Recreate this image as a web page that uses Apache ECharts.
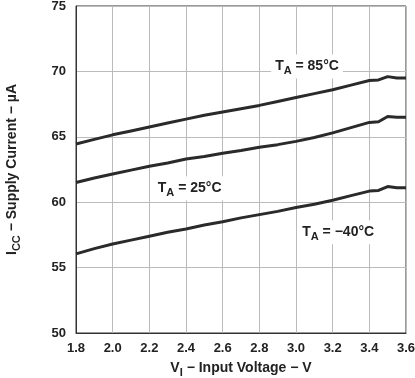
<!DOCTYPE html>
<html>
<head>
<meta charset="utf-8">
<script src="https://cdn.jsdelivr.net/npm/echarts@6/dist/echarts.min.js"></script>
<style>
  html, body { margin: 0; padding: 0; background: #fff; }
  #chart { width: 415px; height: 378px; }
</style>
</head>
<body>
<div id="chart"></div>
<script>
// input voltage (V)
var volts = [1.8, 1.9, 2.0, 2.1, 2.2, 2.3, 2.4, 2.5, 2.6, 2.7, 2.8, 2.9, 3.0, 3.1, 3.2, 3.3, 3.4, 3.45, 3.5, 3.55, 3.6]
// supply current (uA) per temperature
var icc85 = [64.45, 64.8, 65.15, 65.45, 65.75, 66.05, 66.35, 66.65, 66.9, 67.15, 67.4, 67.7, 68.0, 68.3, 68.6, 68.95, 69.3, 69.35, 69.6, 69.5, 69.5]
var icc25 = [61.5, 61.85, 62.15, 62.45, 62.75, 63.0, 63.3, 63.5, 63.75, 63.95, 64.2, 64.4, 64.65, 64.95, 65.3, 65.7, 66.1, 66.15, 66.55, 66.5, 66.5]
var iccM40 = [56.05, 56.45, 56.8, 57.1, 57.4, 57.7, 57.95, 58.25, 58.5, 58.8, 59.05, 59.3, 59.6, 59.85, 60.15, 60.5, 60.85, 60.9, 61.2, 61.1, 61.1]
var tempNames = ['85°C', '25°C', '−40°C']
var labelAt = [[3.06, 70.38], [2.42, 61.07], [3.23, 57.7]]

var font = 'Liberation Sans, Arial, sans-serif'
var richLabel = {
  a: { fontFamily: font, fontWeight: 'bold', fontSize: 14, color: '#222' },
  sub: { fontFamily: font, fontWeight: 'bold', fontSize: 11, color: '#222', padding: [9, 0, 0, 0] }
}

function pairs(ys) {
  return volts.map(function (v, i) { return [v, ys[i]] })
}

function makeSeries(ys, idx) {
  return {
    type: 'line',
    data: pairs(ys),
    symbol: 'none',
    lineStyle: { color: '#2a2a2a', width: 3 },
    markPoint: {
      symbol: 'rect',
      symbolSize: 1,
      itemStyle: { color: 'transparent' },
      data: [{ coord: labelAt[idx] }],
      label: {
        show: true,
        position: 'inside',
        backgroundColor: '#fff',
        padding: [2, 4],
        formatter: '{a|T}{sub|A}{a| = ' + tempNames[idx] + '}',
        rich: richLabel
      }
    }
  }
}

var chart = echarts.init(document.getElementById('chart'))
var option = {
  animation: false,
  grid: {
    left: 76, right: 9, top: 6, bottom: 45,
    outerBoundsMode: 'none',
    containLabel: false,
    show: true, borderColor: '#333', borderWidth: 1
  },
  xAxis: {
    type: 'value',
    min: 1.8, max: 3.6, interval: 0.2,
    axisLine: { show: true, lineStyle: { color: '#333' } },
    axisTick: { show: false },
    splitLine: { show: true, lineStyle: { color: '#bbb', width: 1 } },
    axisLabel: {
      formatter: function (v) { return v.toFixed(1) },
      fontFamily: font, fontWeight: 'bold', fontSize: 13, color: '#222', margin: 9
    },
    name: '{a|V}{sub|I}{a| − Input Voltage − V}',
    nameLocation: 'middle',
    nameGap: 25,
    nameTextStyle: { rich: richLabel }
  },
  yAxis: {
    type: 'value',
    min: 50, max: 75, interval: 5,
    axisLine: { show: true, lineStyle: { color: '#333' } },
    axisTick: { show: false },
    splitLine: { show: true, lineStyle: { color: '#bbb', width: 1 } },
    axisLabel: {
      fontFamily: font, fontWeight: 'bold', fontSize: 13, color: '#222', margin: 10
    },
    name: '{a|I}{sub|CC}{a| − Supply Current − µA}',
    nameLocation: 'middle',
    nameRotate: 90,
    nameGap: 54,
    nameTextStyle: { rich: richLabel }
  },
  series: [makeSeries(icc85, 0), makeSeries(icc25, 1), makeSeries(iccM40, 2)]
}
chart.setOption(option)
</script>
</body>
</html>
